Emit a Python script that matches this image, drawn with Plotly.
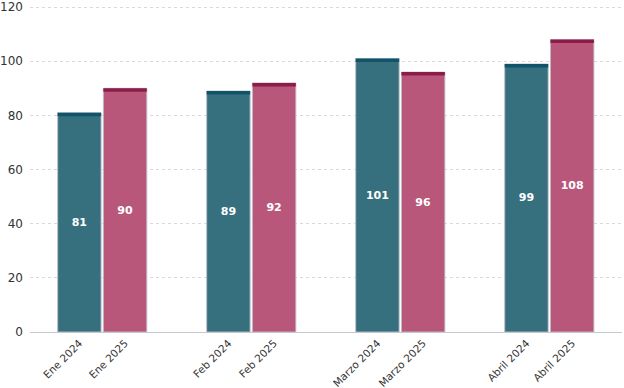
import plotly.graph_objects as go

months = ["Ene", "Feb", "Marzo", "Abril"]
values_2024 = [81, 89, 101, 99]
values_2025 = [90, 92, 96, 108]
y_ticks = [0, 20, 40, 60, 80, 100, 120]

group_pitch = 3.26
cap = 1.3
x24 = [i * group_pitch for i in range(len(months))]
x25 = [i * group_pitch + 1 for i in range(len(months))]
labels24 = [f"{m} 2024" for m in months]
labels25 = [f"{m} 2025" for m in months]

teal, teal_dark = "#36707f", "#0f5468"
pink, pink_dark = "#b9577b", "#8b1d48"
font = "DejaVu Sans"

fig = go.Figure()
for xs, vals, c, cd in [(x24, values_2024, teal, teal_dark), (x25, values_2025, pink, pink_dark)]:
    fig.add_trace(go.Bar(
        x=xs, y=vals, width=0.95, marker=dict(color=c, line=dict(color="rgba(190,190,200,0.9)", width=1)),
        text=[str(v) for v in vals], textposition="inside", insidetextanchor="middle",
        textfont=dict(color="white", size=11, family=font, weight="bold"),
        showlegend=False, hoverinfo="skip", cliponaxis=False))
    fig.add_trace(go.Bar(
        x=xs, y=[cap] * len(vals), base=[v - cap for v in vals], width=0.95,
        marker=dict(color=cd, line=dict(width=0)), showlegend=False, hoverinfo="skip"))

tickvals = []
ticktext = []
for a, b, la, lb in zip(x24, x25, labels24, labels25):
    tickvals += [a, b]
    ticktext += [la, lb]

fig.update_layout(
    barmode="overlay", width=624, height=388,
    margin=dict(l=30, r=2, t=6, b=56),
    plot_bgcolor="white", paper_bgcolor="white",
    font=dict(family=font, color="#333333", size=12),
    xaxis=dict(range=[-1.08, 3 * group_pitch + 2.09], tickvals=tickvals, ticktext=ticktext,
               tickangle=-45, showgrid=False, showline=True, linecolor="#c8c8cc", linewidth=1,
               ticks="", tickfont=dict(size=10.5, color="#333333"), zeroline=False, automargin=False,
               ticklabelstandoff=0),
    yaxis=dict(range=[0, 120.4], tickvals=y_ticks, showgrid=True, gridcolor="#d9d9d9",
               griddash="dot", gridwidth=1, zeroline=False, showline=False, ticks="",
               tickfont=dict(size=12, color="#333333"), automargin=False, ticklabelstandoff=6),
)
fig.write_html("out.html", config={"displayModeBar": False},
               post_script="document.body.style.margin='0';document.body.style.overflow='hidden';")
